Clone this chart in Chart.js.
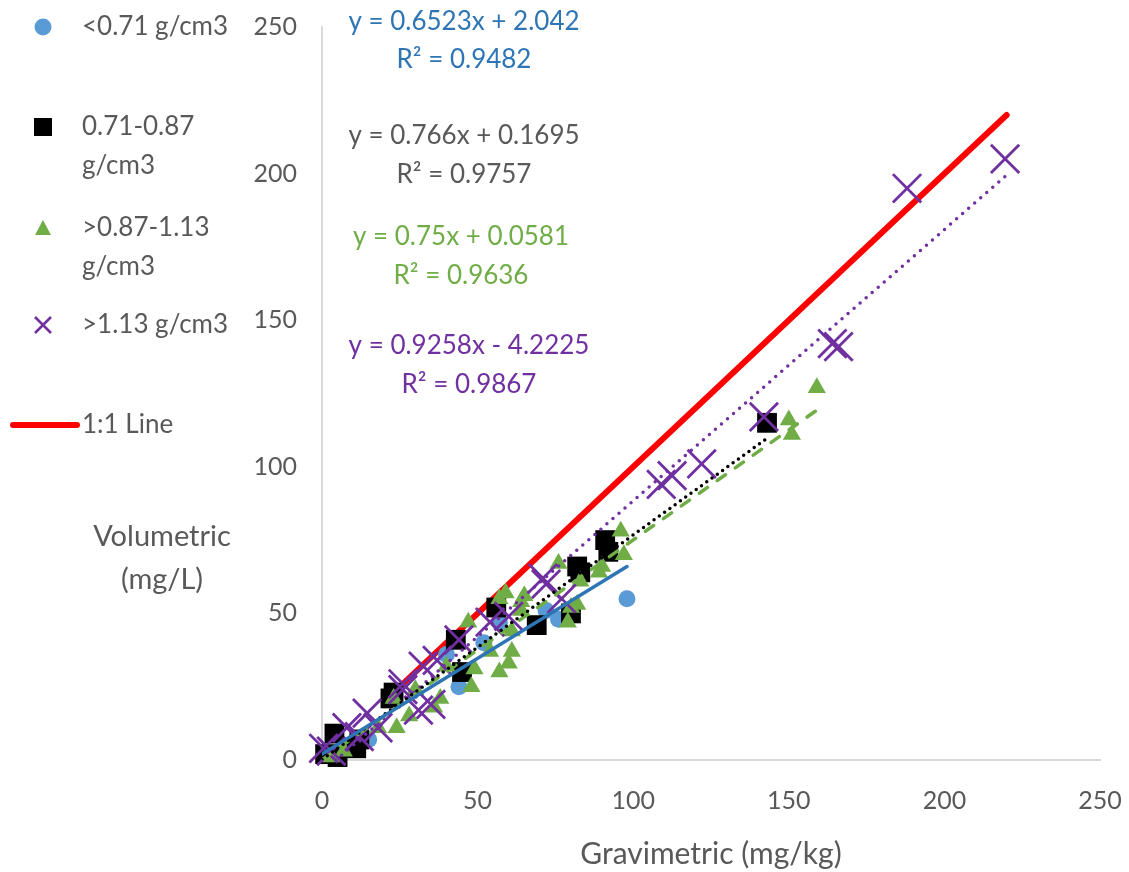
<!DOCTYPE html>
<html lang="en">
<head>
    <meta charset="UTF-8">
    <title>Volumetric vs Gravimetric</title>
    <script src="https://cdn.jsdelivr.net/npm/chart.js"></script>
    <style>
        body { margin: 0; background: #fff; }
        .chart-box { position: relative; width: 1129px; height: 872px; }
    </style>
</head>
<body>
    <div class="chart-box"><canvas id="scatterChart"></canvas></div>

    <script>
        // density groups
        const blueX = [15, 40, 44, 52, 57, 72, 76, 98];
        const blueY = [7, 36, 25, 40, 47, 51, 48, 55];

        const blackX = [1, 4, 5, 11, 12, 22, 23, 43, 45, 56, 69, 80, 82, 83, 91, 92, 143];
        const blackY = [2, 9, 1, 4, 7, 21, 23, 41, 30, 52, 46, 50, 66, 64, 75, 71, 115];

        const greenX = [3, 7, 18, 23, 24, 28, 30, 36, 38, 40, 47, 48, 49, 54, 57, 57, 59, 60, 61, 61, 64, 64, 65, 76, 79, 80, 82, 83, 89, 90, 96, 97, 150, 151, 159];
        const greenY = [1, 3, 11, 21, 11, 15, 24, 18, 21, 32, 47, 25, 31, 37, 30, 55, 57, 33, 37, 44, 54, 51, 56, 67, 47, 52, 53, 61, 64, 66, 78, 70, 116, 111, 127];

        const purpleX = [0.5, 3, 8, 12, 14.5, 18, 26, 26, 31, 32.5, 35, 37, 44, 54, 60, 71, 72, 77, 109, 112.5, 122, 142, 164, 166, 188, 219.5];
        const purpleY = [4, 3, 11, 8, 16, 11, 24, 26, 17, 32, 19, 34, 41, 47, 49, 62, 60, 55, 94, 97, 101, 117, 142, 141, 195, 205];

        const oneToOneX = [20, 220];

        // linear trendlines as printed on the chart
        const trendSlope = [0.6523, 0.766, 0.75, 0.9258];
        const trendIntercept = [2.042, 0.1695, 0.0581, -4.2225];
        const trendStart = [0, 0, 0, 0.5];
        const trendEnd = [98, 143, 159, 219.5];
        const trendR2 = ['0.9482', '0.9757', '0.9636', '0.9867'];

        const seriesLabels = [['<0.71 g/cm3'], ['0.71-0.87', 'g/cm3'], ['>0.87-1.13', 'g/cm3'], ['>1.13 g/cm3'], ['1:1 Line']];
        const axisTicks = [0, 50, 100, 150, 200, 250];

        const FONT = 'Lato, "Open Sans", sans-serif';
        const GREY = '#595959';
        const markerColors = ['#5b9bd5', '#000000', '#70ad47', '#7030a0'];
        const eqColors = ['#2e75b6', '#595959', '#70ad47', '#7030a0'];

        const toPoints = (xs, ys) => xs.map((x, i) => ({ x: x, y: ys[i] }));

        function trendPoints(i) {
            return [trendStart[i], trendEnd[i]].map(x => ({ x: x, y: trendSlope[i] * x + trendIntercept[i] }));
        }

        function equationText(i) {
            const b = trendIntercept[i];
            const sign = b < 0 ? ' - ' : ' + ';
            return 'y = ' + trendSlope[i] + 'x' + sign + Math.abs(b);
        }

        // legend, equations and the horizontal y title
        const overlayPlugin = {
            id: 'overlay',
            afterDraw(chart) {
                const ctx = chart.ctx;
                ctx.save();
                ctx.font = '26px ' + FONT;
                ctx.textBaseline = 'middle';

                // equations
                const eqY = [[22, 60], [136, 175], [237, 276], [346, 385]];
                const eqX = [464, 464, 461, 469];
                ctx.textAlign = 'center';
                for (let i = 0; i < 4; i++) {
                    ctx.fillStyle = eqColors[i];
                    ctx.fillText(equationText(i), eqX[i], eqY[i][0]);
                    ctx.fillText('R\u00B2 = ' + trendR2[i], eqX[i], eqY[i][1]);
                }

                // legend
                const rowY = [27, 127, 228, 325, 425];
                ctx.textAlign = 'left';
                seriesLabels.forEach((lines, i) => {
                    lines.forEach((t, j) => {
                        ctx.fillStyle = GREY;
                        ctx.fillText(t, 82, rowY[i] + j * 39);
                    });
                });
                const mx = 43;
                ctx.fillStyle = markerColors[0];
                ctx.beginPath();
                ctx.arc(mx, rowY[0], 8.5, 0, Math.PI * 2);
                ctx.fill();
                ctx.fillStyle = markerColors[1];
                ctx.fillRect(mx - 9, rowY[1] - 9, 18, 18);
                ctx.fillStyle = markerColors[2];
                ctx.beginPath();
                ctx.moveTo(mx, rowY[2] - 8);
                ctx.lineTo(mx + 8, rowY[2] + 7);
                ctx.lineTo(mx - 8, rowY[2] + 7);
                ctx.closePath();
                ctx.fill();
                ctx.strokeStyle = markerColors[3];
                ctx.lineWidth = 2.5;
                ctx.beginPath();
                ctx.moveTo(mx - 8, rowY[3] - 8);
                ctx.lineTo(mx + 8, rowY[3] + 8);
                ctx.moveTo(mx + 8, rowY[3] - 8);
                ctx.lineTo(mx - 8, rowY[3] + 8);
                ctx.stroke();
                ctx.strokeStyle = '#ff0000';
                ctx.lineWidth = 6;
                ctx.lineCap = 'round';
                ctx.beginPath();
                ctx.moveTo(13, rowY[4]);
                ctx.lineTo(77, rowY[4]);
                ctx.stroke();

                // y title
                ctx.font = '29px ' + FONT;
                ctx.textAlign = 'center';
                ctx.fillStyle = GREY;
                ctx.fillText('Volumetric', 162, 537);
                ctx.fillText('(mg/L)', 162, 580);
                ctx.restore();
            }
        };

        const scatterSet = (label, xs, ys, i, style, radius, order) => ({
            type: 'scatter',
            label: label,
            data: toPoints(xs, ys),
            pointStyle: style,
            pointRadius: radius,
            pointHoverRadius: radius,
            backgroundColor: markerColors[i],
            borderColor: markerColors[i],
            borderWidth: style === 'crossRot' ? 2.8 : 0,
            clip: false,
            order: order
        });

        const trendSet = (i, dash, width) => ({
            type: 'line',
            label: 'trend ' + i,
            data: trendPoints(i),
            borderColor: i === 0 ? '#2e75b6' : markerColors[i],
            borderWidth: width,
            borderDash: dash,
            borderCapStyle: 'round',
            pointRadius: 0,
            fill: false,
            order: 0
        });

        const ctx = document.getElementById('scatterChart').getContext('2d');
        new Chart(ctx, {
            data: {
                datasets: [
                    trendSet(0, [], 3.5),
                    trendSet(1, [0, 6.5], 3.5),
                    trendSet(2, [10, 12], 3.5),
                    trendSet(3, [0, 8], 3.5),
                    scatterSet(seriesLabels[3][0], purpleX, purpleY, 3, 'crossRot', 20, 1),
                    scatterSet(seriesLabels[2].join(' '), greenX, greenY, 2, 'triangle', 10.5, 2),
                    scatterSet(seriesLabels[1].join(' '), blackX, blackY, 1, 'rect', 14, 3),
                    scatterSet(seriesLabels[0][0], blueX, blueY, 0, 'circle', 8.5, 4),
                    {
                        type: 'line',
                        label: '1:1 Line',
                        data: oneToOneX.map(v => ({ x: v, y: v })),
                        borderColor: '#ff0000',
                        borderWidth: 6,
                        borderCapStyle: 'round',
                        pointRadius: 0,
                        fill: false,
                        order: 5
                    }
                ]
            },
            options: {
                responsive: true,
                maintainAspectRatio: false,
                animation: false,
                layout: { padding: { top: 27, right: 29, bottom: 0, left: 0 } },
                plugins: {
                    legend: { display: false },
                    tooltip: { enabled: false }
                },
                scales: {
                    x: {
                        type: 'linear',
                        min: 0,
                        max: 250,
                        afterBuildTicks: s => { s.ticks = axisTicks.map(v => ({ value: v })); },
                        afterFit: s => { s.height = 112; s.paddingLeft = 0; s.paddingRight = 0; },
                        grid: { display: false, drawTicks: false },
                        border: { color: '#d9d9d9', width: 2 },
                        ticks: { padding: 26, color: GREY, font: { family: FONT, size: 25 } },
                        title: {
                            display: true,
                            text: 'Gravimetric (mg/kg)',
                            color: GREY,
                            font: { family: FONT, size: 30 },
                            padding: { top: 0, bottom: 0 }
                        }
                    },
                    y: {
                        type: 'linear',
                        min: 0,
                        max: 250,
                        afterBuildTicks: s => { s.ticks = axisTicks.map(v => ({ value: v })); },
                        afterFit: s => { s.width = 322; s.paddingTop = 0; s.paddingBottom = 0; },
                        grid: { display: false, drawTicks: false },
                        border: { color: '#d9d9d9', width: 2 },
                        ticks: { padding: 25, color: GREY, font: { family: FONT, size: 25 } }
                    }
                }
            },
            plugins: [overlayPlugin]
        });
    </script>
</body>
</html>
